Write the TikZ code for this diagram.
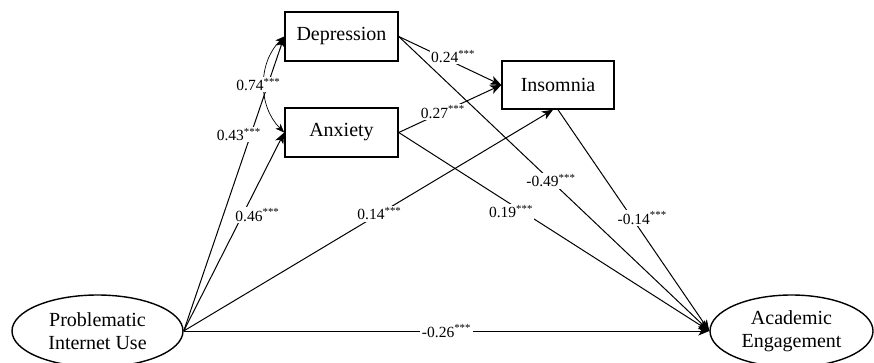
\documentclass[tikz,border=0pt]{standalone}
\usepackage{fontspec}
\setmainfont{Liberation Serif}
\usepackage{tikz}
\usetikzlibrary{arrows.meta,shapes.geometric}

\tikzset{
  var/.style={draw, line width=1.5pt, minimum width=113pt, minimum height=49pt,
    inner sep=0pt, font=\fontsize{20}{23}\selectfont},
  latent/.style={draw, ellipse, line width=1.4pt, minimum width=171pt,
    minimum height=72pt, inner sep=0pt, align=center, font=\fontsize{20}{23}\selectfont},
  eff/.style={line width=1pt, -{Stealth[length=11pt,width=9pt,inset=3pt]}},
  cov/.style={line width=0.7pt, {Stealth[length=9pt,width=7pt,inset=2.5pt]}-{Stealth[length=9pt,width=7pt,inset=2.5pt]}},
  coef/.style={fill=white, inner sep=1.5pt, font=\fontsize{15.5}{18}\selectfont}
}
\newcommand{\sig}[1]{#1\textsuperscript{***}}

\begin{document}
\begin{tikzpicture}[x=1pt, y=-1pt]
      \useasboundingbox (0, 0) rectangle (874, 362);
      \node[var] (dep) at (341.5, 36.5) {Depression};
      \node[var] (anx) at (341.5, 132.5) {Anxiety};
      \node[var, minimum width=112pt, minimum height=48pt] (ins) at (558, 85) {Insomnia};
      \node[latent] (piu) at (97.5, 331) {Problematic\\Internet Use};
      \node[latent, minimum width=163pt] (ae) at (791.5, 331) {Academic\\Engagement};
      \draw[eff] (piu.east) -- node[coef, pos=0.667, xshift=-12pt]{\sig{0.43}} (dep.west);
      \draw[eff] (piu.east) -- node[coef, pos=0.584, xshift=15pt]{\sig{0.46}} (anx.west);
      \draw[eff] (piu.east) -- node[coef, pos=0.53]{\sig{0.14}} ([xshift=-5pt]ins.south);
      \draw[eff] (piu.east) -- node[coef]{\sig{-0.26}} (ae.west);
      \draw[eff] (dep.east) -- node[coef, pos=0.53, yshift=6pt]{\sig{0.24}} (ins.west);
      \draw[eff] (anx.east) -- node[coef, pos=0.43]{\sig{0.27}} (ins.west);
      \draw[eff] (dep.east) -- node[coef, pos=0.49]{\sig{-0.49}} (ae.west);
      \draw[eff] (anx.east) -- node[coef, pos=0.4, xshift=-12pt]{\sig{0.19}} (ae.west);
      \draw[eff] (ins.south) -- node[coef, pos=0.49, xshift=10pt]{\sig{-0.14}} (ae.west);
      \draw[cov] (dep.west) to[bend right=45] node[coef, xshift=-6pt]{\sig{0.74}} (anx.west);
    \end{tikzpicture}
\end{document}
